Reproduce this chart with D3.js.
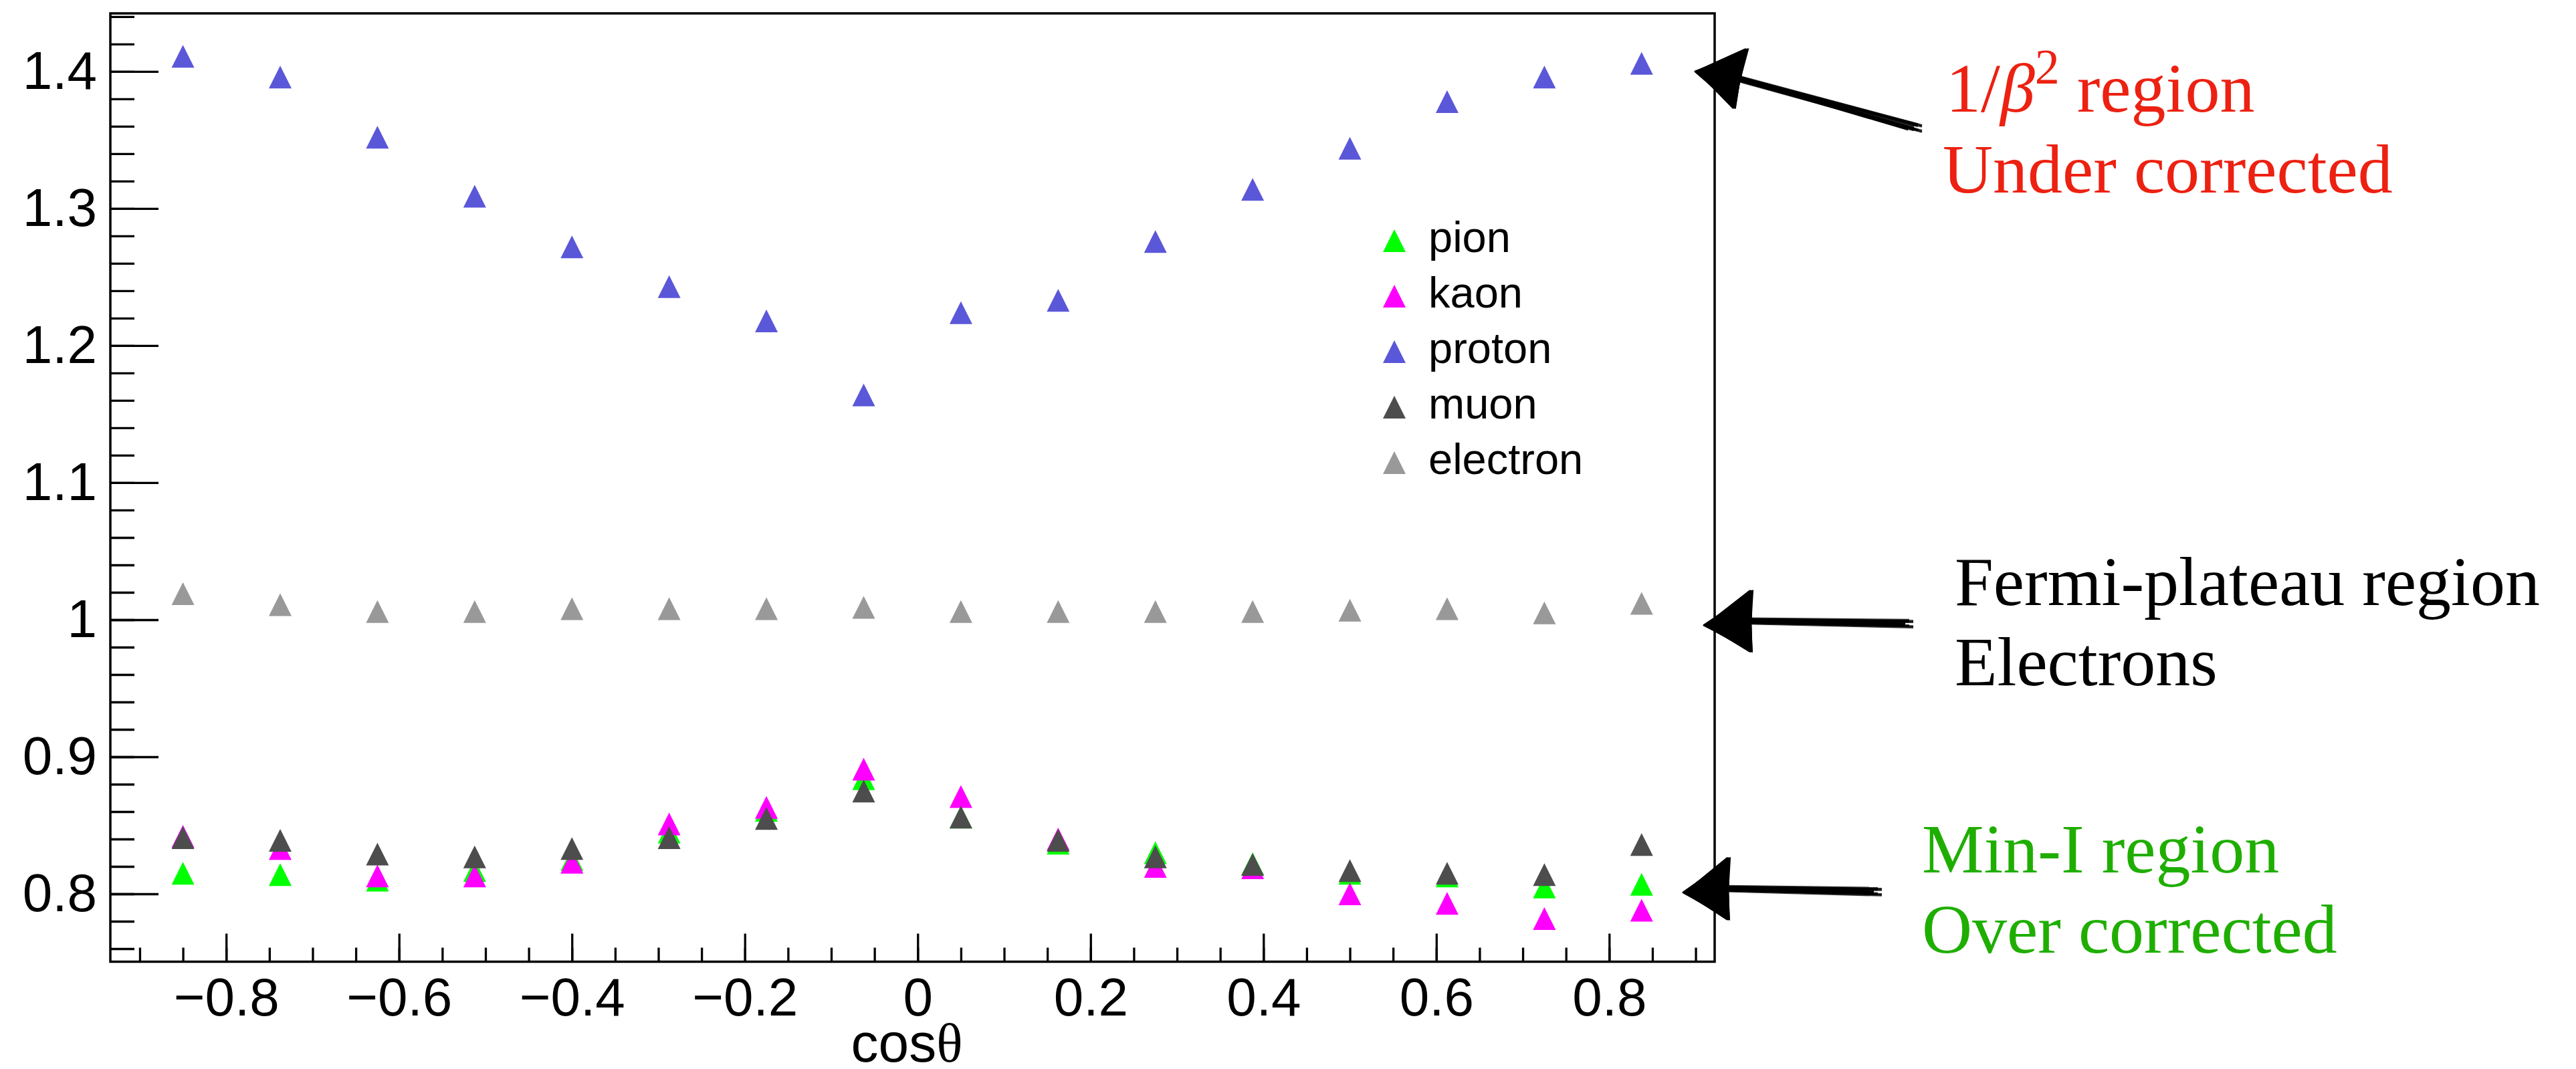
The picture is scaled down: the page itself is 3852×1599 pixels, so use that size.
<!DOCTYPE html>
<html>
<head>
<meta charset="utf-8">
<script src="https://cdn.jsdelivr.net/npm/d3@7"></script>
<style>
  body { margin: 0; background: #fff; }
  text { font-family: "Liberation Sans", Arial, Helvetica, sans-serif; }
  .serif { font-family: "Liberation Serif", "Times New Roman", Times, serif; }
</style>
</head>
<body>
<div id="chart"></div>
<script>
var svgWidth = 3852;
var svgHeight = 1599;

var margin = { top: 20, right: 1288, bottom: 160, left: 165 };
var width = 2564 - margin.left;
var height = 1438.5 - margin.top;

// data
var cosTheta = [-0.85, -0.7375, -0.625, -0.5125, -0.4, -0.2875, -0.175, -0.0625,
                0.05, 0.1625, 0.275, 0.3875, 0.5, 0.6125, 0.725, 0.8375];
var pion     = [0.815, 0.814, 0.810, 0.817, 0.825, 0.845, 0.861, 0.884,
                0.856, 0.837, 0.830, 0.822, 0.815, 0.813, 0.805, 0.807];
var kaon     = [0.842, 0.833, 0.813, 0.813, 0.823, 0.851, 0.863, 0.891,
                0.871, 0.840, 0.820, 0.819, 0.800, 0.793, 0.782, 0.788];
var proton   = [1.411, 1.396, 1.352, 1.309, 1.272, 1.243, 1.218, 1.164,
                1.224, 1.233, 1.276, 1.314, 1.344, 1.378, 1.396, 1.406];
var muon     = [0.841, 0.839, 0.829, 0.827, 0.833, 0.841, 0.855, 0.875,
                0.856, 0.839, 0.827, 0.8215, 0.817, 0.815, 0.814, 0.836];
var electron = [1.019, 1.011, 1.006, 1.006, 1.008, 1.008, 1.008, 1.009,
                1.006, 1.006, 1.006, 1.006, 1.007, 1.008, 1.005, 1.012];

var seriesNames = ["pion", "kaon", "proton", "muon", "electron"];
var seriesColors = ["#00ff00", "#ff00ff", "#5b57d9", "#4d4d4d", "#999999"];

var xMajor = [-0.8, -0.6, -0.4, -0.2, 0, 0.2, 0.4, 0.6, 0.8];
var xMinor = d3.range(-18, 19).map(i => i * 0.05);
var yMajor = [0.8, 0.9, 1.0, 1.1, 1.2, 1.3, 1.4];
var yMinor = d3.range(38, 73).map(i => i * 0.02);

var series = [pion, kaon, proton, muon, electron].map(function(vals, i) {
  return {
    name: seriesNames[i],
    color: seriesColors[i],
    points: vals.map((v, j) => ({ x: cosTheta[j], y: v }))
  };
});

var svg = d3.select("#chart")
  .append("svg")
  .attr("width", svgWidth)
  .attr("height", svgHeight);

svg.append("rect").attr("width", svgWidth).attr("height", svgHeight).attr("fill", "#fff");

var chartGroup = svg.append("g")
  .attr("transform", `translate(${margin.left}, ${margin.top})`);

var xScale = d3.scaleLinear().domain([-0.934, 0.922]).range([0, width]);
var yScale = d3.scaleLinear().domain([0.7505, 1.4424]).range([height, 0]);

var fmt = d3.format(".2~f");

// axes, ROOT style ticks pointing inside
var xAxisMajor = chartGroup.append("g")
  .attr("transform", `translate(0, ${height})`)
  .call(d3.axisBottom(xScale).tickValues(xMajor).tickSize(-42).tickPadding(23.5).tickFormat(fmt));
var xAxisMinor = chartGroup.append("g")
  .attr("transform", `translate(0, ${height})`)
  .call(d3.axisBottom(xScale).tickValues(xMinor).tickSize(-21).tickFormat(""));
var yAxisMajor = chartGroup.append("g")
  .call(d3.axisLeft(yScale).tickValues(yMajor).tickSize(-72).tickPadding(20).tickFormat(fmt));
var yAxisMinor = chartGroup.append("g")
  .call(d3.axisLeft(yScale).tickValues(yMinor).tickSize(-36).tickFormat(""));

[xAxisMajor, xAxisMinor, yAxisMajor, yAxisMinor].forEach(function(ax) {
  ax.select(".domain").remove();
  ax.selectAll("line").attr("stroke", "#000").attr("stroke-width", 3.3);
  ax.selectAll("text").attr("font-size", 80).attr("fill", "#000")
    .style("font-family", "'Liberation Sans', Arial, sans-serif");
});

// frame
chartGroup.append("rect")
  .attr("width", width)
  .attr("height", height)
  .attr("fill", "none")
  .attr("stroke", "#000")
  .attr("stroke-width", 3.5);

// triangle marker, centred on its bounding box like ROOT's
var triangle = {
  draw: function(context, size) {
    var s = Math.sqrt(size) / 2;
    context.moveTo(0, -s);
    context.lineTo(s, s);
    context.lineTo(-s, s);
    context.closePath();
  }
};
var marker = d3.symbol().type(triangle).size(34 * 34);

chartGroup.selectAll(".series")
  .data(series)
  .enter()
  .append("g")
  .attr("class", "series")
  .attr("fill", d => d.color)
  .selectAll("path")
  .data(d => d.points)
  .enter()
  .append("path")
  .attr("d", marker)
  .attr("transform", d => `translate(${xScale(d.x)}, ${yScale(d.y)})`);

// legend
var legend = chartGroup.append("g")
  .attr("transform", `translate(${2085 - margin.left}, ${360 - margin.top})`);
var legendItems = legend.selectAll("g")
  .data(series)
  .enter()
  .append("g")
  .attr("transform", (d, i) => `translate(0, ${i * 83})`);
legendItems.append("path")
  .attr("d", marker)
  .attr("fill", d => d.color);
legendItems.append("text")
  .attr("x", 51)
  .attr("y", 17)
  .attr("font-size", 65)
  .text(d => d.name);

// x title
var xTitle = svg.append("text")
  .attr("x", 1356)
  .attr("y", 1588)
  .attr("text-anchor", "middle")
  .attr("font-size", 82);
xTitle.append("tspan").text("cos");
xTitle.append("tspan").attr("class", "serif").text("θ");

// hand drawn arrows pointing at the three regions
var arrows = [
  { target: 1.4,   tipDx: -29, tipDy: 0, back: [[76, -29], [58, 50]], tail: [339, 85] },
  { target: 0.996, tipDx: -16, tipDy: 0, back: [[70, -47], [70, 35]], tail: [313, -2] },
  { target: 0.801, tipDx: -47, tipDy: 0, back: [[67, -47], [67, 36]], tail: [297, -1] }
];
var jitter = [-5, 3, -2, 6, -4, 1, 4, -6, 2, -3];

arrows.forEach(function(a) {
  var tx = width + a.tipDx, ty = yScale(a.target) + a.tipDy;
  var b1 = [tx + a.back[0][0], ty + a.back[0][1]];
  var b2 = [tx + a.back[1][0], ty + a.back[1][1]];
  var bm = [(b1[0] + b2[0]) / 2, (b1[1] + b2[1]) / 2];
  var tl = [tx + a.tail[0], ty + a.tail[1]];
  var g = chartGroup.append("g").attr("class", "arrow");
  // shaft: a few overlapping strokes
  jitter.forEach(function(j, k) {
    g.append("line")
      .attr("x1", bm[0] - 4).attr("y1", bm[1] + j * 0.6)
      .attr("x2", tl[0] - (k % 3) * 6).attr("y2", tl[1] + j * 0.9)
      .attr("stroke", "#000")
      .attr("stroke-width", 3 + (k % 3))
      .attr("stroke-opacity", 0.8);
  });
  g.append("line")
    .attr("x1", bm[0]).attr("y1", bm[1])
    .attr("x2", tl[0] - 20).attr("y2", tl[1])
    .attr("stroke", "#000").attr("stroke-width", 7);
  // head
  g.append("path")
    .attr("d", d3.line()([[tx, ty], b1, b2]) + "Z")
    .attr("fill", "#000")
    .attr("stroke", "#000")
    .attr("stroke-width", 3)
    .attr("stroke-linejoin", "round");
  jitter.slice(0, 6).forEach(function(j) {
    g.append("path")
      .attr("d", d3.line()([[tx + 4, ty + j * 0.3], [b1[0] + j * 0.5, b1[1] - 4], [b2[0] - j * 0.4, b2[1] + 4], [tx + 2, ty - j * 0.2]]))
      .attr("fill", "none")
      .attr("stroke", "#000")
      .attr("stroke-width", 2);
  });
});

// annotation texts
var notes = [
  { x: 2905, y: 288, color: "#ec2112", text: "Under corrected" },
  { x: 2923, y: 905, color: "#000000", text: "Fermi-plateau region" },
  { x: 2923, y: 1025, color: "#000000", text: "Electrons" },
  { x: 2874, y: 1305, color: "#1fae00", text: "Min-I region" },
  { x: 2874, y: 1425, color: "#1fae00", text: "Over corrected" }
];
svg.selectAll(".note")
  .data(notes)
  .enter()
  .append("text")
  .attr("class", "note serif")
  .attr("x", d => d.x)
  .attr("y", d => d.y)
  .attr("font-size", 104)
  .attr("fill", d => d.color)
  .text(d => d.text);

var beta = svg.append("text")
  .attr("class", "serif")
  .attr("x", 2910)
  .attr("y", 167)
  .attr("font-size", 104)
  .attr("fill", "#ec2112");
beta.append("tspan").text("1/");
beta.append("tspan").attr("font-style", "italic").text("β");
beta.append("tspan").attr("font-size", 74).attr("dy", -42).text("2");
beta.append("tspan").attr("dy", 42).text(" region");
</script>
</body>
</html>
